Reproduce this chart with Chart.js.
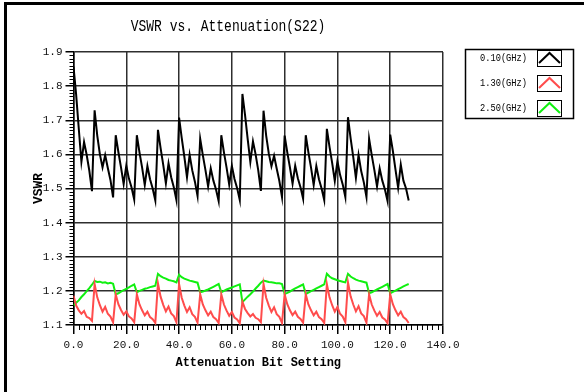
<!DOCTYPE html>
<html>
<head>
<meta charset="utf-8">
<script src="https://cdn.jsdelivr.net/npm/chart.js@4.4.0/dist/chart.umd.min.js"></script>
<style>
  body { margin: 0; background: #fff; }
  canvas { display: block; }
</style>
</head>
<body>
<canvas id="chart" width="584" height="392"></canvas>
<script>
// VSWR readings per attenuation bit setting (0..127), one array per frequency
const vswr010 = [
  1.857, 1.775, 1.675, 1.578, 1.636, 1.598, 1.552, 1.492,
  1.729, 1.655, 1.600, 1.562, 1.598, 1.560, 1.525, 1.474,
  1.656, 1.607, 1.562, 1.513, 1.567, 1.529, 1.503, 1.468,
  1.656, 1.606, 1.561, 1.510, 1.566, 1.527, 1.500, 1.465,
  1.672, 1.618, 1.569, 1.515, 1.574, 1.533, 1.504, 1.466,
  1.708, 1.648, 1.593, 1.533, 1.599, 1.553, 1.520, 1.478,
  1.646, 1.598, 1.554, 1.506, 1.559, 1.523, 1.497, 1.463,
  1.656, 1.606, 1.561, 1.511, 1.566, 1.528, 1.501, 1.466,
  1.777, 1.715, 1.645, 1.578, 1.638, 1.600, 1.553, 1.493,
  1.728, 1.655, 1.602, 1.565, 1.596, 1.558, 1.522, 1.475,
  1.655, 1.606, 1.562, 1.514, 1.567, 1.530, 1.504, 1.470,
  1.656, 1.606, 1.561, 1.510, 1.566, 1.527, 1.500, 1.466,
  1.675, 1.622, 1.575, 1.522, 1.580, 1.540, 1.512, 1.475,
  1.709, 1.647, 1.592, 1.531, 1.598, 1.551, 1.518, 1.475,
  1.646, 1.598, 1.554, 1.506, 1.559, 1.523, 1.497, 1.463,
  1.658, 1.610, 1.555, 1.502, 1.570, 1.523, 1.500, 1.465
];
const vswr130 = [
  1.186, 1.157, 1.143, 1.133, 1.141, 1.124, 1.120, 1.112,
  1.220, 1.181, 1.158, 1.139, 1.153, 1.133, 1.125, 1.108,
  1.190, 1.161, 1.144, 1.130, 1.140, 1.125, 1.119, 1.108,
  1.190, 1.160, 1.143, 1.128, 1.139, 1.123, 1.117, 1.106,
  1.222, 1.183, 1.159, 1.140, 1.154, 1.134, 1.126, 1.108,
  1.220, 1.180, 1.157, 1.138, 1.152, 1.132, 1.124, 1.107,
  1.190, 1.160, 1.143, 1.128, 1.139, 1.123, 1.117, 1.106,
  1.190, 1.160, 1.142, 1.127, 1.138, 1.122, 1.116, 1.105,
  1.168, 1.147, 1.135, 1.125, 1.132, 1.121, 1.117, 1.108,
  1.220, 1.180, 1.157, 1.138, 1.152, 1.132, 1.124, 1.106,
  1.190, 1.161, 1.143, 1.129, 1.139, 1.124, 1.118, 1.107,
  1.190, 1.160, 1.143, 1.128, 1.139, 1.123, 1.117, 1.106,
  1.220, 1.181, 1.158, 1.139, 1.153, 1.133, 1.125, 1.108,
  1.225, 1.184, 1.160, 1.140, 1.155, 1.134, 1.126, 1.107,
  1.190, 1.160, 1.142, 1.127, 1.138, 1.122, 1.116, 1.105,
  1.190, 1.161, 1.143, 1.128, 1.139, 1.123, 1.117, 1.106
];
const vswr250 = [
  1.157, 1.165, 1.172, 1.182, 1.190, 1.199, 1.208, 1.218,
  1.229, 1.226, 1.227, 1.224, 1.225, 1.222, 1.224, 1.221,
  1.190, 1.193, 1.198, 1.202, 1.206, 1.210, 1.215, 1.219,
  1.196, 1.200, 1.203, 1.206, 1.208, 1.211, 1.213, 1.215,
  1.250, 1.243, 1.239, 1.236, 1.232, 1.230, 1.228, 1.225,
  1.247, 1.240, 1.236, 1.233, 1.230, 1.228, 1.226, 1.224,
  1.196, 1.198, 1.201, 1.204, 1.208, 1.212, 1.216, 1.220,
  1.196, 1.200, 1.204, 1.207, 1.210, 1.213, 1.216, 1.219,
  1.167, 1.175, 1.183, 1.190, 1.198, 1.207, 1.215, 1.224,
  1.230, 1.228, 1.226, 1.225, 1.224, 1.222, 1.222, 1.220,
  1.191, 1.194, 1.198, 1.203, 1.207, 1.211, 1.215, 1.219,
  1.191, 1.195, 1.199, 1.203, 1.207, 1.211, 1.215, 1.219,
  1.250, 1.242, 1.237, 1.234, 1.231, 1.229, 1.227, 1.225,
  1.250, 1.242, 1.237, 1.233, 1.230, 1.228, 1.226, 1.224,
  1.193, 1.196, 1.200, 1.204, 1.208, 1.212, 1.216, 1.220,
  1.193, 1.197, 1.201, 1.205, 1.209, 1.213, 1.217, 1.220
];
const seriesLabels = ['0.10(GHz)', '1.30(GHz)', '2.50(GHz)'];
const seriesColors = ['#000000', '#ff4c4c', '#10f010'];
const titleText = 'VSWR vs. Attenuation(S22)';

const MONO = '"Liberation Mono", "DejaVu Sans Mono", monospace';

// bit setting is the index of the reading
const toPoints = arr => arr.map((v, i) => ({ x: i, y: v }));

// narrow tall text, like the bitmap font of the original
function narrowText(ctx, text, x, y, size, squeeze, align) {
  ctx.save();
  ctx.translate(x, y);
  ctx.scale(squeeze, 1);
  ctx.font = size + 'px ' + MONO;
  ctx.textAlign = align;
  ctx.textBaseline = 'middle';
  ctx.fillText(text, 0, 0);
  ctx.restore();
}

const decor = {
  id: 'decor',
  afterDraw(chart) {
    const { ctx, chartArea, scales } = chart;
    ctx.save();

    // outer frame (left + top)
    ctx.fillStyle = '#000';
    ctx.fillRect(4, 2, 580, 3);
    ctx.fillRect(4, 2, 3, 390);

    // title
    ctx.fillStyle = '#000';
    narrowText(ctx, titleText, 228, 27, 16, 0.81, 'center');

    // minor ticks
    ctx.strokeStyle = '#000';
    ctx.lineWidth = 1;
    ctx.beginPath();
    for (let i = 110; i <= 190; i++) {
      if (i % 10 === 0) continue;
      const y = Math.round(scales.y.getPixelForValue(i / 100)) + 0.5;
      ctx.moveTo(chartArea.left - 4, y);
      ctx.lineTo(chartArea.left, y);
    }
    for (let i = 0; i <= 140; i += 2) {
      if (i % 20 === 0) continue;
      const x = Math.round(scales.x.getPixelForValue(i)) + 0.5;
      ctx.moveTo(x, chartArea.bottom);
      ctx.lineTo(x, chartArea.bottom + 5);
    }
    ctx.stroke();

    // legend box
    ctx.lineWidth = 1.5;
    ctx.strokeRect(465.5, 49.5, 108, 69);
    seriesLabels.forEach((lab, i) => {
      const top = 50 + i * 25;
      ctx.fillStyle = '#000';
      narrowText(ctx, lab, 480, top + 8, 10, 0.87, 'left');
      ctx.strokeStyle = '#000';
      ctx.lineWidth = 1;
      ctx.strokeRect(537.5, top + 0.5, 24, 16);
      ctx.strokeStyle = seriesColors[i];
      ctx.lineWidth = 2;
      ctx.beginPath();
      ctx.moveTo(539, top + 13);
      ctx.lineTo(549.5, top + 3);
      ctx.lineTo(560, top + 13);
      ctx.stroke();
    });

    ctx.restore();
  }
};

const ctx = document.getElementById('chart').getContext('2d');
new Chart(ctx, {
  type: 'line',
  data: {
    datasets: [
      { label: seriesLabels[0], data: toPoints(vswr010), borderColor: seriesColors[0], borderWidth: 2, pointRadius: 0 },
      { label: seriesLabels[1], data: toPoints(vswr130), borderColor: seriesColors[1], borderWidth: 2, pointRadius: 0 },
      { label: seriesLabels[2], data: toPoints(vswr250), borderColor: seriesColors[2], borderWidth: 2, pointRadius: 0 }
    ]
  },
  options: {
    responsive: false,
    animation: false,
    devicePixelRatio: 1,
    layout: { padding: { left: 0, top: 52, right: 141, bottom: 0 } },
    plugins: {
      legend: { display: false },
      title: { display: false },
      tooltip: { enabled: false }
    },
    scales: {
      x: {
        type: 'linear',
        min: 0,
        max: 140,
        afterFit: s => { s.height = 67; },
        ticks: {
          stepSize: 20,
          maxRotation: 0,
          padding: 4,
          color: '#111',
          font: { family: MONO, size: 11 },
          callback: v => v.toFixed(1)
        },
        grid: { color: '#2e2e2e', lineWidth: 1.5, tickLength: 9, tickColor: '#000' },
        border: { color: '#000', width: 1.5 },
        title: {
          display: true,
          text: 'Attenuation Bit Setting',
          color: '#000',
          font: { family: MONO, size: 12, weight: 'bold' },
          padding: { top: 0, bottom: 22 }
        }
      },
      y: {
        min: 1.1,
        max: 1.9,
        afterFit: s => { s.width = 73.5; },
        ticks: {
          stepSize: 0.1,
          padding: 3,
          color: '#111',
          font: { family: MONO, size: 11 },
          callback: v => v.toFixed(1)
        },
        grid: { color: '#2e2e2e', lineWidth: 1.5, tickLength: 8, tickColor: '#000' },
        border: { color: '#000', width: 1.5 },
        title: {
          display: true,
          text: 'VSWR',
          color: '#000',
          font: { family: MONO, size: 13, weight: 'bold' },
          padding: { top: 31, bottom: 0 }
        }
      }
    }
  },
  plugins: [decor]
});
</script>
</body>
</html>
